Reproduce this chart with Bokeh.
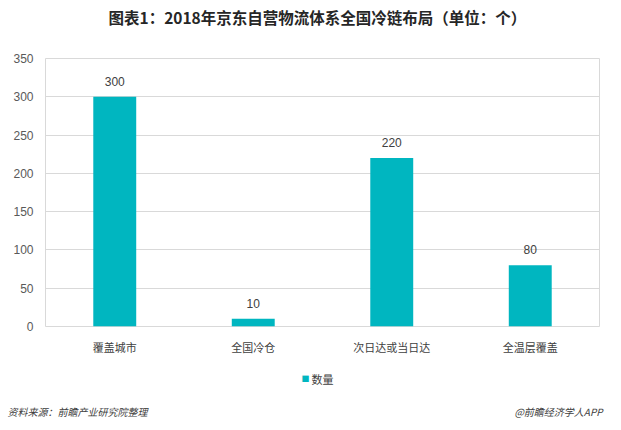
from bokeh.plotting import figure
from bokeh.models import (ColumnDataSource, Range1d, FixedTicker, LabelSet, LinearAxis, Title)
from bokeh.embed import file_html
from bokeh.resources import INLINE
from bokeh.core.properties import value

categories = ["覆盖城市", "全国冷仓", "次日达或当日达", "全温层覆盖"]
counts = [300, 10, 220, 80]
series_name = "数量"
y_ticks = [0, 50, 100, 150, 200, 250, 300, 350]
title_text = "图表1：2018年京东自营物流体系全国冷链布局（单位：个）"
source_text = "资料来源：前瞻产业研究院整理"
credit_text = "@前瞻经济学人APP"

BAR = "#00B6C0"
GRID = "#D9D9D9"
CJK = "Noto Sans CJK SC"
NUM = "Liberation Sans"

# category slots: each category occupies 2 units, centred on odd integers
xpos = [2 * i + 1 for i in range(len(categories))]
src = ColumnDataSource(dict(x=xpos, val=counts, lab=[str(v) for v in counts]))

p = figure(width=613, height=422,
           x_range=Range1d(0, 2 * len(categories)),
           y_range=Range1d(0, 350),
           output_backend="svg", toolbar_location=None,
           min_border_left=45, min_border_right=14,
           min_border_top=58, min_border_bottom=96)

r = p.vbar(x="x", top="val", width=0.62, source=src, color=BAR, line_color=None)

labels = LabelSet(x="x", y="val", text="lab", source=src, y_offset=11,
                  text_align="center", text_baseline="bottom",
                  text_font=value(NUM), text_font_size=value("12px"), text_color="#404040")
p.add_layout(labels)

p.title.text = title_text
p.title.align = "left"
p.title.offset = 63
p.title.standoff = 0
p.title.vertical_align = "bottom"
p.title.text_font = CJK
p.title.text_font_size = "15.5px"
p.title.text_font_style = "bold"
p.title.text_color = "#262626"
# spacer between the title and the plot area
p.add_layout(Title(text=" ", text_font_size="1px", standoff=28), "above")

p.outline_line_color = GRID
p.xgrid.grid_line_color = None
p.ygrid.grid_line_color = GRID
p.ygrid.grid_line_width = 1

p.yaxis.ticker = FixedTicker(ticks=y_ticks)
p.yaxis.axis_line_color = None
p.yaxis.major_tick_line_color = None
p.yaxis.minor_tick_line_color = None
p.yaxis.major_tick_out = 0
p.yaxis.minor_tick_out = 0
p.yaxis.major_label_text_font = NUM
p.yaxis.major_label_text_font_size = "12px"
p.yaxis.major_label_text_color = "#595959"
p.yaxis.major_label_standoff = 12

p.xaxis.ticker = FixedTicker(ticks=xpos)
p.xaxis.major_label_overrides = {xv: c for xv, c in zip(xpos, categories)}
p.xaxis.axis_line_color = None
p.xaxis.major_tick_line_color = None
p.xaxis.minor_tick_line_color = None
p.xaxis.major_tick_out = 0
p.xaxis.minor_tick_out = 0
p.xaxis.major_label_text_font = CJK
p.xaxis.major_label_text_font_size = "11px"
p.xaxis.major_label_text_color = "#404040"
p.xaxis.major_label_standoff = 12

# legend: teal square as a tick label, series name as the axis label on the same row
p.extra_x_ranges = {"px": Range1d(45, 599)}
key_pos = [305]
key = LinearAxis(x_range_name="px", ticker=FixedTicker(ticks=key_pos),
                 major_label_overrides={key_pos[0]: "■"},
                 axis_line_color=None, major_tick_line_color=None, minor_tick_line_color=None,
                 major_tick_out=0, minor_tick_out=0,
                 major_label_standoff=15, major_label_text_font=CJK,
                 major_label_text_font_size="8px", major_label_text_color=BAR,
                 axis_label=series_name, axis_label_standoff=-16,
                 axis_label_text_font=CJK, axis_label_text_font_size="11px",
                 axis_label_text_font_style="normal", axis_label_text_color="#404040")
p.add_layout(key, "below")

# footer texts drawn as tick labels of an extra axis in page-pixel units
foot_pos = [77, 558]
foot = LinearAxis(x_range_name="px", ticker=FixedTicker(ticks=foot_pos),
                  major_label_overrides={foot_pos[0]: source_text, foot_pos[1]: credit_text},
                  axis_line_color=None, major_tick_line_color=None, minor_tick_line_color=None,
                  major_tick_out=0, minor_tick_out=0,
                  major_label_standoff=14, major_label_text_font=CJK,
                  major_label_text_font_size="10px", major_label_text_font_style="italic",
                  major_label_text_color="#404040")
p.add_layout(foot, "below")

open("out.html", "w").write(file_html(p, INLINE))
